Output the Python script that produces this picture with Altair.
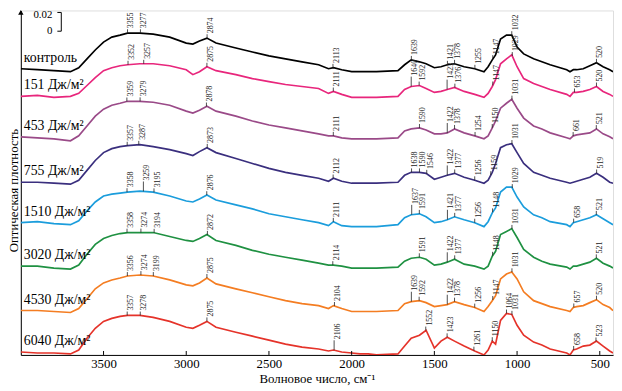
import altair as alt
import numpy as np
import pandas as pd

# wavenumbers (cm^-1) at which the spectra were read
wavenumber = [4000, 3900, 3800, 3700, 3650, 3600, 3550, 3500, 3450, 3400, 3355, 3280, 3200, 3100,
              3000, 2960, 2920, 2875, 2820, 2700, 2600, 2500, 2400, 2300, 2200, 2140, 2110, 2060,
              2000, 1950, 1900,
              1850, 1720, 1680, 1640, 1590, 1550, 1500, 1460, 1422, 1378, 1320, 1256, 1200, 1175,
              1150, 1130, 1100, 1064, 1032, 1000, 960, 900, 850, 800, 700, 680, 660, 640, 600,
              560, 520, 480, 440, 420]

series_names = ["контроль", "151 Дж/м²", "453 Дж/м²", "755 Дж/м²",
                "1510 Дж/м²", "3020 Дж/м²", "4530 Дж/м²", "6040 Дж/м²"]
series_colors = ["#000000", "#e8267c", "#9a4a88", "#3a2f7e",
                 "#1b9ddc", "#1f9142", "#f47d22", "#e5332a"]

# optical density, stacked (arbitrary units, 21 units = 0.02)
od_control = [290, 289, 288, 287, 291, 300, 309, 317, 322, 324, 326, 326, 325, 322, 316, 315, 318, 321,
              316, 311, 307, 303, 300, 297, 294, 290, 291, 289, 287, 287, 287,
              287, 288, 294, 299, 297, 295, 291, 292, 294, 295, 292, 290, 287, 292, 299, 304, 320, 324,
              324, 312, 305, 300, 297, 294, 289, 287, 289, 289, 290, 293, 296, 292, 289, 287]
od_151 = [262, 263, 261, 262, 265, 273, 281, 288, 291, 293, 294, 295, 295, 293, 289, 284, 287, 292,
          288, 284, 280, 277, 274, 272, 270, 265, 267, 264, 261, 261, 261,
          261, 262, 269, 272, 273, 270, 266, 267, 269, 271, 267, 264, 261, 265, 272, 279, 295, 300,
          304, 292, 280, 275, 272, 269, 264, 262, 266, 266, 267, 269, 272, 267, 264, 262]
od_453 = [221, 220, 219, 217, 222, 232, 242, 249, 253, 255, 257, 257, 256, 253, 247, 245, 248, 252,
          247, 242, 237, 233, 230, 227, 224, 222, 222, 220, 219, 219, 219,
          219, 220, 227, 229, 230, 228, 224, 224, 225, 229, 225, 222, 219, 222, 230, 237, 250, 255,
          259, 250, 240, 232, 229, 225, 220, 219, 222, 223, 224, 225, 229, 224, 221, 219]
od_755 = [175, 175, 174, 173, 177, 187, 197, 205, 209, 211, 212, 213, 211, 208, 204, 202, 206, 210,
          205, 199, 194, 189, 185, 182, 179, 176, 179, 176, 174, 174, 174,
          174, 175, 182, 185, 185, 184, 178, 180, 182, 184, 180, 177, 174, 177, 185, 194, 210, 213,
          214, 205, 194, 185, 182, 179, 175, 174, 175, 176, 178, 180, 184, 180, 175, 174]
od_1510 = [134, 135, 133, 132, 136, 146, 155, 161, 163, 164, 165, 166, 165, 161, 156, 155, 158, 162,
           157, 152, 148, 143, 140, 137, 134, 131, 135, 131, 130, 130, 130,
           130, 132, 139, 142, 143, 140, 134, 135, 137, 140, 137, 134, 130, 135, 144, 149, 165, 170,
           170, 160, 150, 142, 139, 135, 132, 130, 134, 135, 137, 139, 142, 138, 134, 132]
od_3020 = [90, 90, 88, 87, 91, 102, 112, 118, 121, 123, 124, 124, 124, 120, 116, 115, 118, 122,
           116, 111, 106, 102, 99, 96, 93, 91, 91, 90, 88, 88, 88,
           88, 89, 95, 98, 99, 97, 91, 92, 94, 97, 92, 90, 87, 90, 100, 105, 122, 125,
           128, 119, 107, 99, 95, 92, 89, 87, 90, 90, 92, 94, 98, 93, 90, 88]
od_4530 = [45, 45, 44, 43, 47, 57, 67, 73, 76, 78, 80, 81, 80, 76, 71, 70, 73, 78,
           72, 67, 63, 59, 55, 52, 50, 47, 50, 47, 44, 44, 44,
           44, 45, 52, 54, 55, 53, 49, 50, 51, 54, 51, 48, 44, 49, 55, 60, 77, 82,
           84, 77, 64, 55, 52, 49, 45, 44, 48, 49, 50, 53, 56, 51, 48, 45]
od_6040 = [3, 2, 2, 1, 5, 17, 27, 34, 37, 39, 40, 40, 38, 34, 28, 27, 30, 34,
           28, 23, 19, 15, 11, 8, 6, 4, 5, 3, 2, 1, 1,
           0, 1, 9, 17, 20, 25, 7, 14, 18, 14, 9, 4, 0, 5, 14, 11, 35, 42,
           41, 30, 20, 13, 10, 6, 2, 0, 5, 6, 9, 10, 14, 9, 4, 2]
spectra = [od_control, od_151, od_453, od_755, od_1510, od_3020, od_4530, od_6040]

# peak labels per spectrum
peaks = [
    [3355, 3277, 2874, 2113, 1639, 1421, 1378, 1255, 1147, 1032, 520],
    [3352, 3257, 2875, 2111, 1640, 1592, 1423, 1376, 1147, 1029, 653, 520],
    [3359, 3279, 2878, 2111, 1590, 1422, 1378, 1254, 1150, 1031, 661, 521],
    [3357, 3287, 2873, 2112, 1638, 1590, 1546, 1422, 1377, 1256, 1159, 1031, 519],
    [3358, 3259, 3195, 2876, 2111, 1637, 1591, 1421, 1377, 1256, 1148, 1029, 658, 521],
    [3358, 3274, 3194, 2872, 2114, 1591, 1422, 1377, 1148, 1031, 521],
    [3356, 3274, 3199, 2875, 2104, 1639, 1592, 1422, 1378, 1256, 1147, 1031, 657, 520],
    [3357, 3278, 2875, 2106, 1552, 1423, 1261, 1150, 1064, 1031, 658, 523],
]
long_marks = [[], [1640, 1423], [1422], [1422], [3259, 1637, 1421], [1422], [1639, 1422], [2106]]

x_ticks = [3500, 3000, 2500, 2000, 1500, 1000, 500]
scale_bar_labels = ["0.02", "0"]

SHORT, LONG = 4, 10

rows, mark_rows, name_rows = [], [], []
for name, vals, pk, lg in zip(series_names, spectra, peaks, long_marks):
    assert len(vals) == len(wavenumber)
    for w, v in zip(wavenumber, vals):
        rows.append({"wn": w, "od": v, "series": name})
    xs = wavenumber[::-1]
    ys = vals[::-1]
    for p in pk:
        base = float(np.interp(p, xs, ys))
        top = base + (LONG if p in lg else SHORT)
        mark_rows.append({"wn": p, "y0": base, "y1": top, "label": str(p), "ty": top + 1})
    name_rows.append({"series": name, "wn": wavenumber[0], "y": vals[0] + 11})

df = pd.DataFrame(rows)
dm = pd.DataFrame(mark_rows)
dn = pd.DataFrame(name_rows)
dt = pd.DataFrame({"wn": x_ticks})

FONT = "Liberation Serif"
xscale = alt.Scale(domain=[4000, 420], nice=False, zero=False)
yscale = alt.Scale(domain=[0, 349], nice=False, zero=False)

lines = alt.Chart(df).mark_line(strokeWidth=1.7, clip=True).encode(
    x=alt.X("wn:Q", scale=xscale,
            axis=alt.Axis(values=x_ticks, format="d", ticks=False, labelPadding=3, labelFont=FONT,
                          labelFontSize=13, labelColor="black", domainColor="black",
                          grid=False, title="Волновое число, см⁻¹", titleFont=FONT,
                          titleFontSize=13, titleFontWeight="normal", titleColor="black",
                          titlePadding=2, labelFlush=False)),
    y=alt.Y("od:Q", scale=yscale,
            axis=alt.Axis(ticks=False, labels=False, grid=False, domainColor="black",
                          title="Оптическая плотность", titleFont=FONT, titleFontSize=13,
                          titleFontWeight="normal", titleColor="black", titleAngle=270,
                          titleX=-13, titleY=182, titleBaseline="top", titleAlign="center")),
    color=alt.Color("series:N", scale=alt.Scale(domain=series_names, range=series_colors),
                    legend=None),
    detail="series:N",
)

axis_ticks = alt.Chart(dt).mark_rule(color="black", strokeWidth=1).encode(
    x=alt.X("wn:Q", scale=xscale), y=alt.value(349), y2=alt.value(345))

peak_ticks = alt.Chart(dm).mark_rule(color="#222222", strokeWidth=0.8).encode(
    x=alt.X("wn:Q", scale=xscale), y=alt.Y("y0:Q", scale=yscale), y2="y1:Q")

peak_text = alt.Chart(dm).mark_text(angle=270, align="left", baseline="top", font=FONT,
                                    fontSize=8, color="#222222").encode(
    x=alt.X("wn:Q", scale=xscale), y=alt.Y("ty:Q", scale=yscale), text="label:N")

names = alt.Chart(dn).mark_text(align="left", baseline="middle", font=FONT, fontSize=14,
                                dx=3, color="black").encode(
    x=alt.X("wn:Q", scale=xscale), y=alt.Y("y:Q", scale=yscale), text="series:N")

arrow = alt.Chart(pd.DataFrame({"a": [0]})).mark_point(
    shape="triangle-up", filled=True, color="black", size=30, opacity=1).encode(
    x=alt.value(0), y=alt.value(2))

bar = alt.Chart(pd.DataFrame({"a": [0]})).mark_rule(color="black", strokeWidth=1).encode(
    x=alt.value(41), y=alt.value(2), y2=alt.value(21))
bar_top = alt.Chart(pd.DataFrame({"a": [0]})).mark_rule(color="black", strokeWidth=1).encode(
    x=alt.value(37), x2=alt.value(41), y=alt.value(2))
bar_bot = alt.Chart(pd.DataFrame({"a": [0]})).mark_rule(color="black", strokeWidth=1).encode(
    x=alt.value(37), x2=alt.value(41), y=alt.value(21))
bar_text = alt.Chart(pd.DataFrame({"t": scale_bar_labels, "py": [5, 21]})).mark_text(
    align="right", baseline="middle", font=FONT, fontSize=11, color="black").encode(
    x=alt.value(32), y=alt.Y("py:Q", scale=None), text="t:N")

chart = alt.layer(lines, axis_ticks, peak_ticks, peak_text, names, arrow,
                  bar, bar_top, bar_bot, bar_text).properties(
    width=600, height=349, autosize="none",
    padding={"left": 13, "top": 0, "right": 1, "bottom": 33},
).configure_view(stroke=None).configure(background="white")

chart.save("out.html", embed_options={"renderer": "svg", "actions": False})
